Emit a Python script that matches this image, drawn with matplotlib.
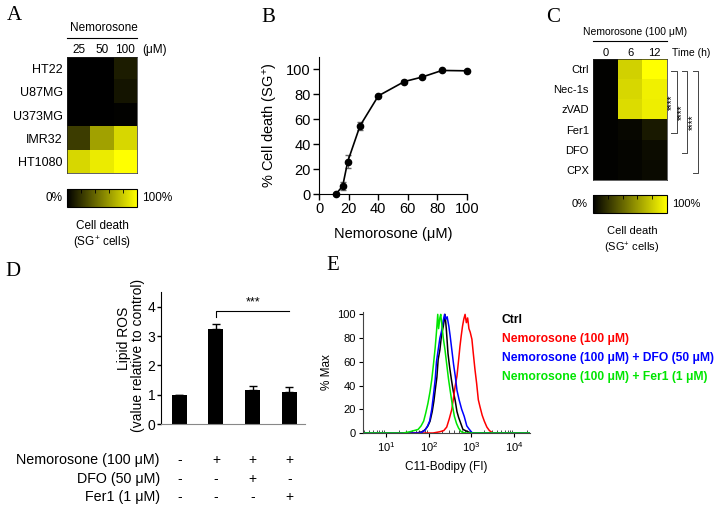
import numpy as np
import matplotlib
matplotlib.use('Agg')
import matplotlib.pyplot as plt
from matplotlib.colors import LinearSegmentedColormap, Normalize
from matplotlib.cm import ScalarMappable
from matplotlib.transforms import blended_transform_factory

plt.rcParams['font.family'] = ['Liberation Sans', 'DejaVu Sans']
plt.rcParams['mathtext.fontset'] = 'custom'
plt.rcParams['mathtext.rm'] = 'Liberation Sans'
plt.rcParams['mathtext.it'] = 'Liberation Sans:italic'
plt.rcParams['mathtext.bf'] = 'Liberation Sans:bold'

# ---- data ----
# A: cell death heatmap (% SG+ cells)
a_lines = ['HT22', 'U87MG', 'U373MG', 'IMR32', 'HT1080']
a_doses = ['25', '50', '100']
a_death = [[0, 0, 11],
           [0, 0, 8],
           [0, 0, 1],
           [24, 63, 84],
           [84, 92, 100]]

# B: dose response
b_conc = [11.5, 16, 19.4, 27.7, 40.1, 57.7, 69.4, 83.1, 100]
b_death = [0, 6.4, 26, 54.7, 78.8, 90.3, 93.8, 99.2, 98.9]
b_err = [0.5, 3, 5, 3, 1, 1, 1, 0.5, 0.5]

# C: inhibitor heatmap
c_treat = ['Ctrl', 'Nec-1s', 'zVAD', 'Fer1', 'DFO', 'CPX']
c_time = ['0', '6', '12']
c_death = [[1, 82, 100],
           [1, 84, 94],
           [1, 86, 93],
           [1, 3, 10],
           [1, 2, 5],
           [1, 2, 4]]

# D: lipid ROS
d_values = [1.0, 3.23, 1.17, 1.1]
d_err = [0, 0.17, 0.12, 0.15]
d_rows = ['Nemorosone (100 \u03bcM)', 'DFO (50 \u03bcM)', 'Fer1 (1 \u03bcM)']
d_signs = [['-', '+', '+', '+'],
           ['-', '-', '+', '-'],
           ['-', '-', '-', '+']]

# E: C11-Bodipy histograms (x in log10 units, y in % max)
e_labels = ['Ctrl', 'Nemorosone (100 \u03bcM)',
            'Nemorosone (100 \u03bcM) + DFO (50 \u03bcM)',
            'Nemorosone (100 \u03bcM) + Fer1 (1 \u03bcM)']
e_colors = ['black', '#ff0000', '#0000ff', '#00e600']
ctrl_lx = [0.46, 1.70, 1.85, 1.92, 1.98, 2.03, 2.08, 2.12, 2.15, 2.19, 2.22, 2.26, 2.30,
           2.34, 2.38, 2.41, 2.45, 2.49, 2.53, 2.57, 2.62, 2.66, 2.70, 2.75, 2.80, 2.86,
           2.92, 3.0, 4.37]
ctrl_y = [0, 0, 1, 3, 6, 10, 18, 27, 36, 47, 62, 70, 83, 90, 100, 88, 67, 55, 45, 36, 27,
          18, 13, 8, 3, 2, 1, 0, 0]
nem_lx = [0.46, 2.10, 2.25, 2.35, 2.42, 2.48, 2.54, 2.58, 2.62, 2.66, 2.70, 2.73, 2.76,
          2.79, 2.82, 2.85, 2.88, 2.91, 2.94, 2.97, 3.01, 3.04, 3.08, 3.12, 3.16, 3.20,
          3.25, 3.30, 3.36, 3.42, 3.50, 4.37]
nem_y = [0, 0, 1, 2, 5, 12, 20, 30, 40, 48, 62, 73, 82, 90, 96, 100, 93, 97, 88, 85, 79,
         68, 54, 42, 28, 22, 15, 10, 5, 2, 0, 0]
dfo_lx = [0.46, 1.80, 1.90, 1.96, 2.02, 2.07, 2.11, 2.15, 2.18, 2.22, 2.26, 2.30, 2.34,
          2.37, 2.40, 2.43, 2.47, 2.50, 2.54, 2.58, 2.62, 2.66, 2.71, 2.77, 2.83, 2.89,
          2.95, 3.02, 4.37]
dfo_y = [0, 0, 2, 5, 10, 20, 32, 45, 60, 70, 80, 86, 95, 100, 96, 98, 90, 82, 70, 58, 48,
         36, 28, 20, 14, 6, 3, 0, 0]
fer_lx = [0.46, 1.40, 1.55, 1.65, 1.75, 1.82, 1.88, 1.93, 1.98, 2.03, 2.07, 2.11, 2.15,
          2.18, 2.21, 2.23, 2.26, 2.28, 2.31, 2.34, 2.38, 2.42, 2.46, 2.50, 2.55, 2.60,
          2.65, 2.70, 2.76, 2.85, 4.37]
fer_y = [0, 0, 1, 2, 3, 6, 10, 17, 25, 35, 45, 58, 72, 85, 100, 88, 97, 100, 90, 80, 70,
         58, 46, 36, 24, 14, 8, 4, 1, 0, 0]

W, H = 718, 508
fig = plt.figure(figsize=(W / 100, H / 100), dpi=100)


def box(x0, y0, x1, y1):
    # pixel box (top-left origin) -> figure fraction rect
    return [x0 / W, 1 - y1 / H, (x1 - x0) / W, (y1 - y0) / H]


def ftext(x, y, s, **kw):
    return fig.text(x / W, 1 - y / H, s, **kw)


def hline(x0, x1, y, **kw):
    fig.add_artist(plt.Line2D([x0 / W, x1 / W], [1 - y / H, 1 - y / H],
                              transform=fig.transFigure, **kw))


cmap = LinearSegmentedColormap.from_list('by', ['#000000', '#ffff00'])
norm = Normalize(0, 100)
letter = dict(family=['Liberation Serif', 'DejaVu Serif'], fontsize=15)


def heatmap(rect, data, rows, cols, fs, cfs):
    ax = fig.add_axes(rect)
    ax.imshow(data, cmap=cmap, norm=norm, aspect='auto', interpolation='nearest')
    ax.set_yticks(range(len(rows)), rows, fontsize=fs)
    ax.xaxis.tick_top()
    ax.set_xticks(range(len(cols)), cols, fontsize=cfs)
    ax.tick_params(axis='y', length=0, pad=3)
    ax.tick_params(axis='x', length=0, pad=0.5)
    for s in ax.spines.values():
        s.set_color('#222222')
        s.set_linewidth(0.5)
    return ax


def colorbar(rect):
    cax = fig.add_axes(rect)
    cb = fig.colorbar(ScalarMappable(norm=norm, cmap=cmap), cax=cax,
                      orientation='horizontal')
    cb.set_ticks([20, 40, 60, 80])
    cax.xaxis.set_ticks_position('top')
    cax.tick_params(direction='in', length=3, width=0.6, labeltop=False,
                    labelbottom=False)
    cb.outline.set_linewidth(0.8)
    return cax


# ---- A ----
ftext(14, 15, 'A', ha='center', va='center', **letter)
ftext(104, 28, 'Nemorosone', ha='center', va='center', fontsize=8.5)
hline(67, 137, 38, color='black', lw=0.8)
ftext(155, 50, '(\u03bcM)', ha='center', va='center', fontsize=8.5)
heatmap(box(67, 57, 137, 173), a_death, a_lines, a_doses, 9, 8.5)
colorbar(box(67, 189, 137, 207))
ftext(62, 198, '0%', ha='right', va='center', fontsize=8.5)
ftext(142, 198, '100%', ha='left', va='center', fontsize=8.5)
ftext(102, 226, 'Cell death', ha='center', va='center', fontsize=8.5)
ftext(102, 243, '(SG$^{+}$ cells)', ha='center', va='center', fontsize=8.5)

# ---- B ----
ftext(268, 17, 'B', ha='center', va='center', **letter)
axB = fig.add_axes(box(319, 57, 467, 194))
axB.errorbar(b_conc, b_death, yerr=b_err, color='black', marker='o', ms=4.5,
             lw=1.2, capsize=2, elinewidth=0.8, ecolor='#666666', clip_on=False)
axB.set_xlim(0, 100)
axB.set_ylim(0, 110)
axB.set_xticks(range(0, 101, 20))
axB.set_yticks(range(0, 101, 20))
axB.spines[['top', 'right']].set_visible(False)
axB.tick_params(direction='out', length=4, width=1, labelsize=10.5, pad=2)
axB.set_xlabel('Nemorosone (\u03bcM)', fontsize=10.5, labelpad=8)
axB.set_ylabel('% Cell death (SG$^{+}$)', fontsize=10.5, labelpad=4)

# ---- C ----
ftext(553, 17, 'C', ha='center', va='center', **letter)
ftext(635, 32, 'Nemorosone (100 \u03bcM)', ha='center', va='center', fontsize=7.5)
hline(593, 667, 41, color='black', lw=0.8)
ftext(691, 53, 'Time (h)', ha='center', va='center', fontsize=7.5)
axC = heatmap(box(593, 59, 667, 180), c_death, c_treat, c_time, 8, 8)
# significance brackets, all from Ctrl
for end, xv, xt in [(3, 2.9, 2.66), (4, 3.31, 3.1), (5, 3.75, 3.55)]:
    y0, y1 = 0.1, end + 0.15
    axC.plot([xt, xv, xv, xt], [y0, y0, y1, y1], color='#444444', lw=0.7,
             clip_on=False)
    axC.text(xv - 0.2, (y0 + y1) / 2, '****', rotation=90, ha='center',
             va='center', fontsize=7)
axC.set_xlim(-0.5, 2.5)
axC.set_ylim(5.5, -0.5)
colorbar(box(593, 195, 667, 213))
ftext(588, 204, '0%', ha='right', va='center', fontsize=8)
ftext(672, 204, '100%', ha='left', va='center', fontsize=8)
ftext(632, 231, 'Cell death', ha='center', va='center', fontsize=8)
ftext(632, 248, '(SG$^{+}$ cells)', ha='center', va='center', fontsize=8)

# ---- D ----
ftext(13, 272, 'D', ha='center', va='center', **letter)
axD = fig.add_axes(box(161, 292, 305, 424))
xs = np.arange(len(d_values))
axD.bar(xs, d_values, width=0.41, color='black')
axD.errorbar(xs, d_values, yerr=[np.zeros(len(d_err)), d_err], fmt='none',
             ecolor='black', capsize=3, elinewidth=1)
axD.set_xlim(-0.5, 3.43)
axD.set_ylim(0, 4.5)
axD.set_xticks([])
axD.set_yticks(range(5))
axD.spines[['top', 'right']].set_visible(False)
axD.spines['bottom'].set_color('#888888')
axD.tick_params(axis='y', direction='out', length=3, width=1, labelsize=10, pad=1)
axD.plot([1, 1, 3], [3.66, 3.86, 3.86], color='black', lw=0.8, clip_on=False)
axD.text(2, 3.93, '***', ha='center', va='bottom', fontsize=9)
ftext(124, 338, 'Lipid ROS', rotation=90, ha='center', va='center', fontsize=10)
ftext(138, 355, '(value relative to control)', rotation=90, ha='center',
      va='center', fontsize=10)
trans = blended_transform_factory(axD.transData, fig.transFigure)
for ry, label, signs in zip([460, 479, 497], d_rows, d_signs):
    ftext(160, ry, label, ha='right', va='center', fontsize=10.3)
    for i, s in enumerate(signs):
        axD.text(i, 1 - ry / H, s, transform=trans, ha='center', va='center',
                 fontsize=10)

# ---- E ----
ftext(333, 265, 'E', ha='center', va='center', **letter)
axE = fig.add_axes(box(363, 312, 530, 433))
curves = [(ctrl_lx, ctrl_y), (nem_lx, nem_y), (dfo_lx, dfo_y), (fer_lx, fer_y)]
for (lx, yv), col in zip(curves, e_colors):
    axE.plot(10 ** np.array(lx), yv, color=col, lw=1.1)
axE.set_xscale('log')
axE.set_xlim(10 ** 0.46, 10 ** 4.37)
axE.set_ylim(0, 102)
axE.set_xticks([10, 100, 1000, 10000])
axE.set_yticks(range(0, 101, 20))
axE.spines[['top', 'right']].set_visible(False)
for s in ['left', 'bottom']:
    axE.spines[s].set_color('#444444')
    axE.spines[s].set_linewidth(0.8)
axE.tick_params(which='major', direction='out', length=3, width=0.8,
                labelsize=8, pad=2)
axE.tick_params(which='minor', direction='in', length=2, width=0.5)
axE.set_xlabel('C11-Bodipy (FI)', fontsize=8.5, labelpad=5)
axE.set_ylabel('% Max', fontsize=8.5, labelpad=3)
for k, (lab, col) in enumerate(zip(e_labels, e_colors)):
    ftext(502, 320 + 19 * k, lab, ha='left', va='center', color=col,
          fontsize=8.7, fontweight='bold')

fig.savefig('out.png', dpi=100)
